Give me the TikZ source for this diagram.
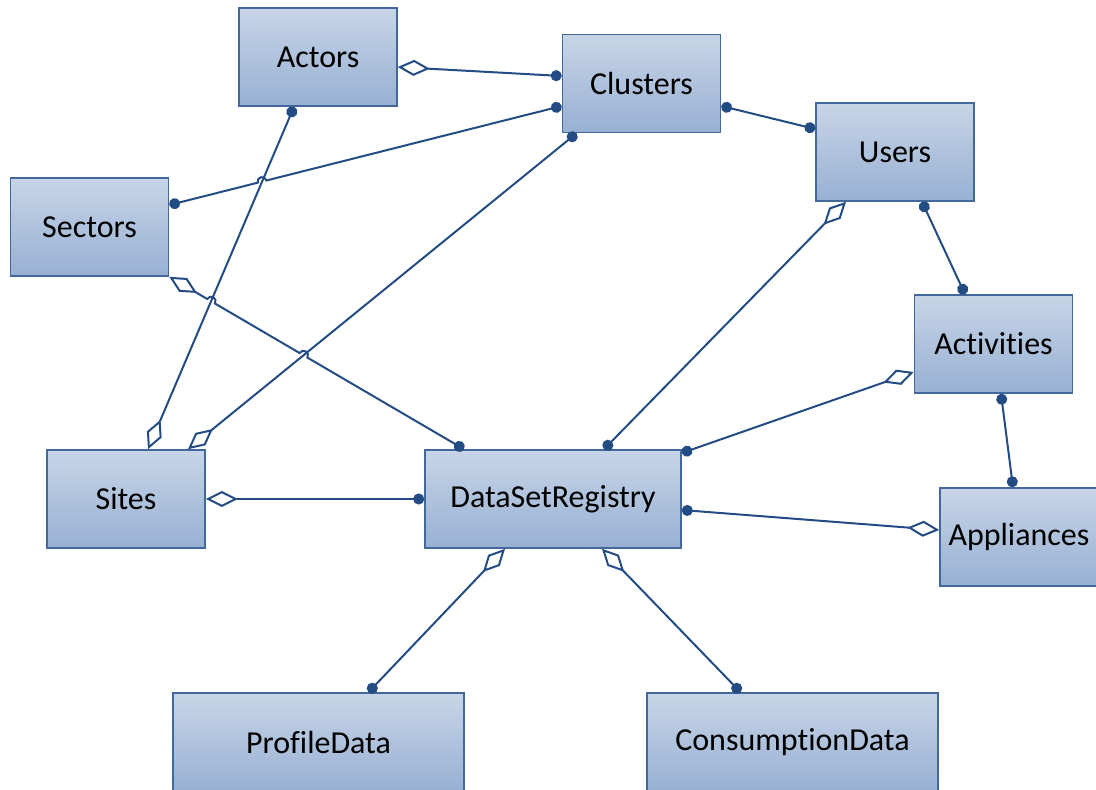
\documentclass[tikz,border=0pt]{standalone}
\usepackage{fontspec}
\setmainfont{Carlito}[Ligatures={NoCommon}]
\usetikzlibrary{arrows.meta,calc,intersections}

\definecolor{linkblue}{RGB}{36,76,132}
\definecolor{boxedge}{RGB}{66,104,156}
\definecolor{boxtop}{RGB}{200,213,231}
\definecolor{boxbot}{RGB}{151,176,211}

\tikzset{
  entity/.style={draw=boxedge, line width=1.6pt, top color=boxtop,
    bottom color=boxbot, minimum width=158pt, minimum height=98pt,
    inner sep=0pt, text=black, font=\fontsize{32}{38}\selectfont},
  widebox/.style={minimum width=291pt},
  link/.style={draw=linkblue, line width=2pt, line join=miter},
  blob/.tip={Circle[length=11pt]},
  hollowdia/.tip={Diamond[open, length=32pt, width=16pt]},
}

% small line-jump: coordinates around crossing #1 on a path running from #2 to #3
\newcommand\mkhop[3]{%
  \coordinate (#1a) at ($(#1)!4.5pt!(#2)$);
  \coordinate (#1b) at ($(#1)!4.5pt!(#3)$);
  \coordinate (#1p) at ($(#1a)!6pt!90:(#1)$);
  \coordinate (#1q) at ($(#1b)!6pt!-90:(#1)$);
}

\begin{document}
\begin{tikzpicture}[x=1pt, y=-1pt]
\useasboundingbox (0,0) rectangle (1096,790);

% entities
\node[entity] (actors)     at (318,57)    {Actors};
\node[entity] (clusters)   at (641.5,83.5) {Clusters};
\node[entity] (users)      at (895,152)   {Users};
\node[entity] (sectors)    at (89.5,227)  {Sectors};
\node[entity] (activities) at (993.5,344) {Activities};
\node[entity] (sites)      at (126,499)   {Sites};
\node[entity, minimum width=256pt] (dsr) at (553,499) {DataSetRegistry};
\node[entity] (appliances) at (1019,537)  {Appliances};
\node[entity, widebox] (profile)     at (318.5,742) {ProfileData};
\node[entity, widebox] (consumption) at (792.5,742) {ConsumptionData};

% connector end points
\coordinate (actE)  at ($(actors.east)+(0,10)$);
\coordinate (actS)  at ($(actors.south)+(-24,0)$);
\coordinate (cluW1) at ($(clusters.west)+(0,-7.5)$);
\coordinate (cluW2) at ($(clusters.west)+(0,22.5)$);
\coordinate (cluE)  at ($(clusters.east)+(0,22.5)$);
\coordinate (cluS)  at ($(clusters.south)+(-65,0)$);
\coordinate (usrW)  at ($(users.west)+(0,-23)$);
\coordinate (usrS1) at ($(users.south)+(-49,0)$);
\coordinate (usrS2) at ($(users.south)+(27,0)$);
\coordinate (secE)  at ($(sectors.east)+(0,-22)$);
\coordinate (actvN) at ($(activities.north)+(-28.5,0)$);
\coordinate (actvW) at ($(activities.west)+(0,28)$);
\coordinate (actvS) at ($(activities.south)+(7.5,0)$);
\coordinate (sitN1) at ($(sites.north)+(22,0)$);
\coordinate (sitN2) at ($(sites.north)+(62,0)$);
\coordinate (dsrN1) at ($(dsr.north)+(-89,0)$);
\coordinate (dsrN2) at ($(dsr.north)+(51,0)$);
\coordinate (dsrE1) at ($(dsr.east)+(0,-46)$);
\coordinate (dsrE2) at ($(dsr.east)+(0,11)$);
\coordinate (dsrS1) at ($(dsr.south)+(-48,0)$);
\coordinate (dsrS2) at ($(dsr.south)+(49,0)$);
\coordinate (appN)  at ($(appliances.north)+(-6,0)$);
\coordinate (appW)  at ($(appliances.west)+(0,-7)$);
\coordinate (proN)  at ($(profile.north)+(50,0)$);
\coordinate (conN)  at ($(consumption.north)+(-52,0)$);

% crossings that get a line jump
\path[name path=pAS] (actS) -- (sitN1);
\path[name path=pCS] (cluS) -- (sitN2);
\path[name path=pSC] (secE) -- (cluW2);
\path[name path=pSD] (sectors.south east) -- (dsrN1);
\path[name intersections={of=pAS and pSC, by=xa}];
\path[name intersections={of=pAS and pSD, by=xb}];
\path[name intersections={of=pCS and pSD, by=xc}];
\mkhop{xa}{secE}{cluW2}
\mkhop{xb}{sectors.south east}{dsrN1}
\mkhop{xc}{sectors.south east}{dsrN1}

% connectors
\draw[link, blob-hollowdia] (cluW1) -- (actE);
\draw[link, blob-blob] (secE) -- (xaa) .. controls (xap) and (xaq) .. (xab) -- (cluW2);
\draw[link, blob-blob] (cluE) -- (usrW);
\draw[link, blob-hollowdia] (actS) -- (sitN1);
\draw[link, blob-hollowdia] (cluS) -- (sitN2);
\draw[link, hollowdia-blob] (sectors.south east) -- (xba)
  .. controls (xbp) and (xbq) .. (xbb) -- (xca)
  .. controls (xcp) and (xcq) .. (xcb) -- (dsrN1);
\draw[link, blob-hollowdia] (dsrN2) -- (usrS1);
\draw[link, blob-blob] (usrS2) -- (actvN);
\draw[link, blob-hollowdia] (dsrE1) -- (actvW);
\draw[link, blob-blob] (actvS) -- (appN);
\draw[link, blob-hollowdia] (dsr.west) -- (sites.east);
\draw[link, blob-hollowdia] (dsrE2) -- (appW);
\draw[link, blob-hollowdia] (proN) -- (dsrS1);
\draw[link, blob-hollowdia] (conN) -- (dsrS2);
\end{tikzpicture}
\end{document}
